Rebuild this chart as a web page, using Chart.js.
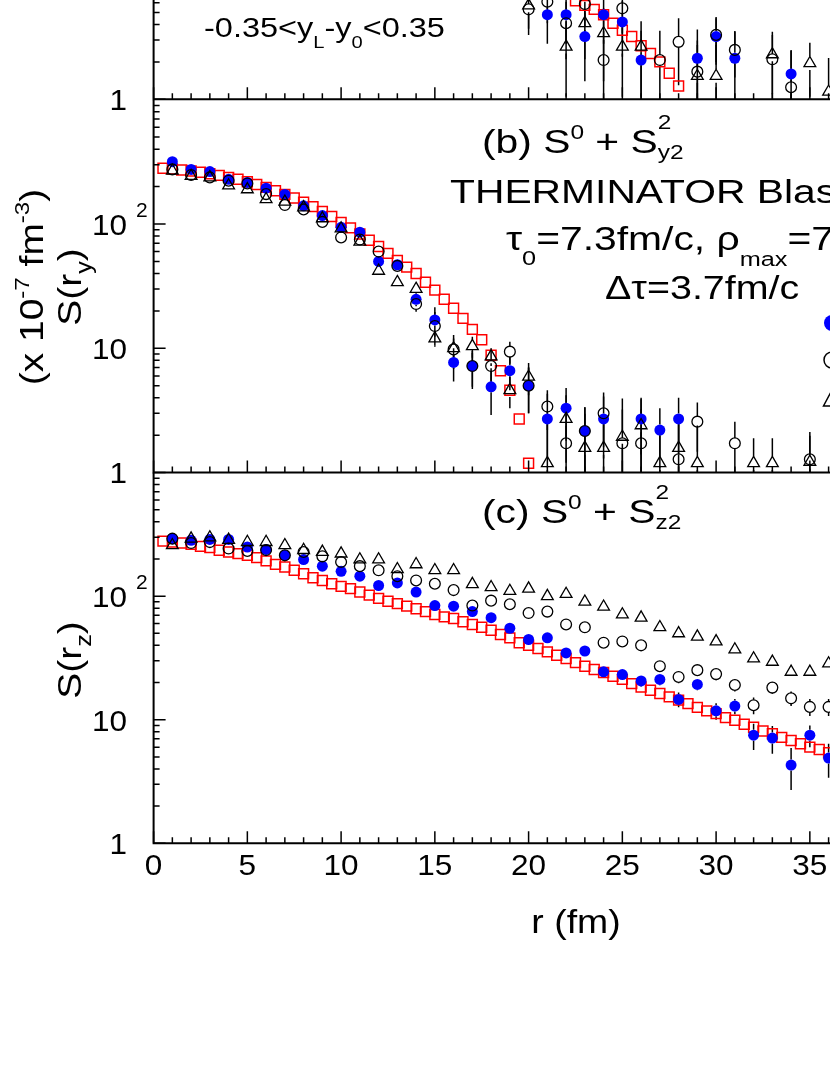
<!DOCTYPE html>
<html>
<head>
<meta charset="utf-8">
<script src="https://cdn.jsdelivr.net/npm/chart.js@4.4.1/dist/chart.umd.min.js"></script>
<style>
  html, body { margin: 0; padding: 0; background: #fff; overflow: hidden; width: 830px; height: 1075px; }
  canvas { position: absolute; left: 0; }
</style>
</head>
<body>
<canvas id="panelA" width="1000" height="1075" style="top:-400px"></canvas>
<canvas id="panelB" width="1000" height="1075" style="top:0"></canvas>
<canvas id="panelC" width="1000" height="1075" style="top:0"></canvas>
<script>
"use strict";

// ---- data ----
const rBins = [1, 2, 3, 4, 5, 6, 7, 8, 9, 10, 11, 12,
  13, 14, 15, 16, 17, 18, 19, 20, 21, 22, 23, 24,
  25, 26, 27, 28, 29, 30, 31, 32, 33, 34, 35, 36];
const rModel = [0.5, 1, 1.5, 2, 2.5, 3, 3.5, 4, 4.5, 5, 5.5, 6,
  6.5, 7, 7.5, 8, 8.5, 9, 9.5, 10, 10.5, 11, 11.5, 12,
  12.5, 13, 13.5, 14, 14.5, 15, 15.5, 16, 16.5, 17, 17.5, 18,
  18.5, 19, 19.5, 20, 20.5, 21, 21.5, 22, 22.5, 23, 23.5, 24,
  24.5, 25, 25.5, 26, 26.5, 27, 27.5, 28, 28.5, 29, 29.5, 30,
  30.5, 31, 31.5, 32, 32.5, 33, 33.5, 34, 34.5, 35, 35.5, 36];
const xTickValues = [0, 5, 10, 15, 20, 25, 30, 35];
const xTickLabels = ["0", "5", "10", "15", "20", "25", "30", "35"];
const yTickValues = [1, 10, 100];
const yTickLabels = [["1"], ["10"], ["10", "2"]];

// panel (a) - only the lower part is on the page
const aBlue = [null, null, null, null, null, null, null, null, null, null, null, null,
  null, null, null, null, null, null, null, null, 4.8, 4.8, 3.2, 4.8,
  4.2, 2.07, null, null, 2.14, 3.2, 2.14, null, null, 1.6, null, null];
const aBlueErr = [null, null, null, null, null, null, null, null, null, null, null, null,
  null, null, null, null, null, null, null, null, 2.0, 2.0, 1.8, 2.0,
  2.0, 1.5, null, null, 1.5, 1.3, 1.4, null, null, 0.9, null, null];
const aCircle = [null, null, null, null, null, null, null, null, null, null, null, null,
  null, null, null, null, null, null, null, 5.3, 6.1, 4.1, 5.85, 2.07,
  5.4, null, 2.07, 2.9, 1.67, 3.3, 2.5, null, 2.1, 1.25, null, null];
const aCircleErr = [null, null, null, null, null, null, null, null, null, null, null, null,
  null, null, null, null, null, null, null, 2.0, 2.0, 2.0, 2.0, 1.5,
  2.0, null, 1.5, 1.6, 1.3, 1.3, 1.0, null, 1.2, 1.2, null, null];
const aTri = [null, null, null, null, null, null, null, null, null, null, null, null,
  null, null, null, null, null, null, null, 5.7, null, 2.65, 4.1, 3.4,
  2.65, 2.65, null, null, 1.54, 1.54, null, null, 2.3, null, 1.95, 1.15];
const aTriErr = [null, null, null, null, null, null, null, null, null, null, null, null,
  null, null, null, null, null, null, null, 2.0, null, 1.6, 2.0, 2.0,
  1.6, 1.6, null, null, 1.2, 1.2, null, null, 1.2, null, 0.9, 1.0];
const aModel = [null, null, null, null, null, null, null, null, null, null, null, null,
  null, null, null, null, null, null, null, null, null, null, null, null,
  null, null, null, null, null, null, null, null, null, null, null, null,
  null, null, null, null, null, null, null, null, 6.2, 5.7, 5.3, 4.8,
  4.1, 3.6, 3.2, 2.7, 2.34, 2.0, 1.62, 1.28, null, null, null, null,
  null, null, null, null, null, null, null, null, null, null, null, null];

// panel (b)
const bBlue = [317, 275, 264, 229, 216, 194, 173, 140, 117, 94, 86, 50,
  47, 24.8, 16.9, 7.7, 7.2, 4.9, 6.6, 5.0, 2.7, 3.3, 2.16, 2.7,
  null, 2.7, 2.2, 2.7, null, null, null, null, null, null, null, null];
const bBlueErr = [6, 5, 5, 5, 4, 4, 4, 3, 3, 3, 3, 2,
  2, 3, 4.5, 2.3, 2.5, 2.0, 2.0, 2.0, 1.6, 1.5, 1.2, 1.4,
  null, 1.3, 1.1, 1.3, null, null, null, null, null, null, null, null];
const bCircle = [275, 248, 237, 223, 212, 174, 142, 131, 104, 78, 75, 60,
  46, 22.7, 15.1, 9.8, 7.2, 7.2, 9.4, 5.0, 3.4, 1.72, 2.16, 3.0,
  1.72, 1.72, null, 1.28, 2.57, null, 1.72, null, null, null, 1.28, null];
const bCircleErr = [5, 5, 5, 5, 4, 4, 3, 3, 3, 2, 2, 2,
  2, 3, 4.5, 3, 2.3, 2.3, 1.9, 2.0, 1.2, 1.5, 1.2, 1.4,
  1.5, 1.5, null, 1.4, 1.1, null, 0.85, null, null, null, 0.7, null];
const bTri = [268, 243, 237, 204, 190, 158, 151, 136, 111, 92, 72, 42,
  34, 30, 12, 10, 10.4, 8.6, 4.6, 5.9, 1.19, 2.7, 1.58, 1.58,
  1.94, 2.4, 1.19, 1.58, 1.19, null, null, 1.19, 1.19, null, 1.22, null];
const bTriErr = [5, 5, 5, 4, 4, 3, 3, 3, 3, 2, 2, 2,
  2, 3, 1.7, 2.0, 2.0, 1.4, 1.3, 1.7, 1.5, 1.5, 1.4, 1.4,
  2.0, 1.5, 1.2, 1.2, 1.2, null, null, 0.7, 0.7, null, 0.9, null];
const bModel = [281, 277, 272, 267, 261, 254, 246, 237, 229, 219, 208, 197,
  185, 173, 162, 150, 138, 126, 115, 103, 93, 83, 74, 66,
  58, 51, 45, 40, 34, 29.4, 24.8, 21, 17.4, 14.2, 11.7, 8.8,
  6.6, 4.6, 2.7, 1.19, null, null, null, null, null, null, null, null,
  null, null, null, null, null, null, null, null, null, null, null, null,
  null, null, null, null, null, null, null, null, null, null, null, null];

// panel (c)
const cBlue = [292, 283, 288, 288, 250, 239, 214, 198, 175, 159, 145, 122,
  128, 108, 84, 83, 75, 67, 55, 44.6, 46, 34.7, 36, 24.4,
  23.2, 20.6, 21.2, 14.6, 19.3, 11.8, 12.9, 7.5, 7.1, 4.3, 7.5, 4.9];
const cBlueErr = [5, 5, 5, 5, 5, 5, 4, 4, 4, 4, 4, 3,
  3, 3, 3, 3, 3, 3, 3, 3, 3, 2.5, 2.5, 2.5,
  2.2, 2.2, 2.2, 2.0, 2.0, 1.8, 1.8, 1.8, 1.8, 1.6, 1.5, 1.5];
const cCircle = [292, 269, 274, 243, 232, 236, 214, 228, 210, 189, 175, 162,
  145, 134, 126, 112, 84, 92, 86, 73, 75, 59, 56, 42,
  43, 40, 27.1, 22.2, 25.2, 23.4, 19.1, 13.1, 18.2, 14.9, 12.7, 12.7];
const cCircleErr = [5, 5, 5, 5, 5, 5, 4, 4, 4, 4, 4, 3,
  3, 3, 3, 3, 3, 3, 3, 3, 3, 3, 3, 3,
  3, 3, 2.5, 2.5, 2.5, 2.5, 2.2, 2.0, 2.0, 2.0, 2.0, 2.0];
const cTri = [258, 292, 298, 285, 274, 274, 258, 236, 228, 221, 198, 198,
  165, 181, 162, 162, 125, 118, 110, 115, 100, 104, 90, 82,
  71, 67, 56, 50, 47, 43, 37, 31.3, 29.4, 24.4, 24.4, 28.5];
const cTriErr = [5, 5, 5, 5, 5, 5, 4, 4, 4, 4, 4, 4,
  3, 3, 3, 3, 3, 3, 3, 3, 3, 3, 3, 3,
  2, 2, 2, 2, 2, 2, 2, 2, 2, 2, 2, 2];
const cModel = [279, 274, 269, 263, 253, 247, 235, 228, 221, 214, 205, 193,
  181, 172, 162, 152, 141, 134, 126, 120, 115, 108, 102, 96,
  91, 87, 83, 79, 75, 71, 68, 66, 62, 59, 56, 53,
  49, 46, 42, 40, 37.7, 35.4, 33.3, 31.3, 29, 27.1, 25.5, 24.1,
  22.5, 21.2, 19.6, 18.4, 17.3, 16.3, 15.3, 14.4, 13.5, 12.6, 11.8, 11.2,
  10.4, 9.9, 9.2, 8.7, 8.1, 7.7, 7.2, 6.8, 6.4, 6.0, 5.75, 5.4];

// ---- drawing helpers ----
const FONT = '"Liberation Sans", Arial, Helvetica, sans-serif';

// parts: ["text", sizeFactor, dyInEm]; a nested array stacks sup/sub at one spot
function drawRich(ctx, parts, x, y, o) {
  const size = o.size;
  const items = parts.map((p) => {
    const segs = (Array.isArray(p[0]) ? p : [p]).map(([t, f, dy]) => ({
      t: t,
      s: size * (f || 1),
      dy: size * (dy || 0),
    }));
    let w = 0;
    segs.forEach((s) => {
      ctx.font = s.s + "px " + FONT;
      w = Math.max(w, ctx.measureText(s.t).width);
    });
    return { segs, w };
  });
  const total = items.reduce((a, it) => a + it.w, 0);
  ctx.save();
  ctx.translate(x, y);
  if (o.rot) ctx.rotate(o.rot);
  ctx.scale(o.sx || 1, 1);
  let cx = o.align === "center" ? -total / 2 : o.align === "right" ? -total : 0;
  ctx.fillStyle = "#000";
  ctx.textAlign = "left";
  ctx.textBaseline = "alphabetic";
  items.forEach((it) => {
    it.segs.forEach((s) => {
      ctx.font = s.s + "px " + FONT;
      ctx.fillText(s.t, cx, s.dy);
    });
    cx += it.w;
  });
  ctx.restore();
}

const panelPlugin = {
  id: "panel",
  beforeDatasetsDraw(chart) {
    // vertical error bars, clipped to the frame, left open inside the marker
    const ctx = chart.ctx;
    const area = chart.chartArea;
    const ys = chart.scales.y;
    ctx.save();
    ctx.beginPath();
    ctx.rect(area.left, area.top, area.right - area.left, area.bottom - area.top);
    ctx.clip();
    ctx.strokeStyle = "#000";
    ctx.lineWidth = 1.5;
    chart.data.datasets.forEach((ds, i) => {
      if (!ds.showErrors) return;
      const gap = ds.pointRadius;
      const meta = chart.getDatasetMeta(i);
      meta.data.forEach((pt, j) => {
        const raw = ds.data[j];
        if (raw.e == null) return;
        const hi = ys.getPixelForValue(raw.y + raw.e);
        const lo = raw.y - raw.e > 0 ? ys.getPixelForValue(raw.y - raw.e) : area.bottom + 5;
        ctx.beginPath();
        if (hi < pt.y - gap) {
          ctx.moveTo(pt.x, hi);
          ctx.lineTo(pt.x, pt.y - gap);
        }
        if (lo > pt.y + gap) {
          ctx.moveTo(pt.x, pt.y + gap);
          ctx.lineTo(pt.x, lo);
        }
        ctx.stroke();
      });
    });
    ctx.restore();
  },
  afterDatasetsDraw(chart, args, opts) {
    const ctx = chart.ctx;
    const { left, right, top, bottom } = chart.chartArea;
    const xs = chart.scales.x;
    const ys = chart.scales.y;

    ctx.save();
    ctx.strokeStyle = "#000";
    ctx.lineWidth = 2;
    ctx.beginPath();
    ctx.moveTo(left, top);
    ctx.lineTo(left, bottom);
    ctx.lineTo(right, bottom);
    ctx.stroke();

    // ticks point into the frame
    ctx.lineWidth = 1.5;
    ctx.beginPath();
    for (let r = xs.min; r <= xs.max; r += 1) {
      const px = xs.getPixelForValue(r);
      const len = r % 5 === 0 ? 12 : 6;
      ctx.moveTo(px, bottom);
      ctx.lineTo(px, bottom - len);
    }
    for (let d = ys.min; d < ys.max; d *= 10) {
      for (let m = 1; m < 10; m++) {
        const py = ys.getPixelForValue(m * d);
        ctx.moveTo(left, py);
        ctx.lineTo(left + (m === 1 ? 12 : 6), py);
      }
    }
    ctx.stroke();
    ctx.restore();

    yTickValues.forEach((v, i) => {
      const py = ys.getPixelForValue(v);
      const lab = yTickLabels[i];
      drawRich(ctx, [[lab[0]]], 127, py + 10.8, { size: 30, sx: 1.05, align: "right" });
      if (lab[1]) drawRich(ctx, [[lab[1]]], 136, py - 7, { size: 21 });
    });

    if (opts.xLabels) {
      xTickValues.forEach((v, i) => {
        drawRich(ctx, [[xTickLabels[i]]], xs.getPixelForValue(v), bottom + 32, {
          size: 30, sx: 1.05, align: "center",
        });
      });
    }

    (opts.texts || []).forEach((t) => drawRich(ctx, t.parts, t.x, t.y, t));

    (opts.legend || []).forEach((m) => {
      ctx.save();
      ctx.lineWidth = 1.5;
      ctx.strokeStyle = "#000";
      ctx.fillStyle = "#0000ff";
      ctx.beginPath();
      if (m.style === "dot") {
        ctx.arc(m.x, m.y, 8, 0, 2 * Math.PI);
        ctx.fill();
      } else if (m.style === "circle") {
        ctx.arc(m.x, m.y, 8, 0, 2 * Math.PI);
        ctx.stroke();
      } else {
        ctx.moveTo(m.x, m.y - 9);
        ctx.lineTo(m.x + 8.5, m.y + 7);
        ctx.lineTo(m.x - 8.5, m.y + 7);
        ctx.closePath();
        ctx.stroke();
      }
      ctx.restore();
    });
  },
};

const blueStyle = {
  pointStyle: "circle", pointRadius: 5.5,
  pointBackgroundColor: "#0000ff", pointBorderColor: "#0000ff", pointBorderWidth: 0,
};
const circleStyle = {
  pointStyle: "circle", pointRadius: 5.4,
  pointBackgroundColor: "rgba(0,0,0,0)", pointBorderColor: "#000", pointBorderWidth: 1.3,
};
const triStyle = {
  pointStyle: "triangle", pointRadius: 6.8,
  pointBackgroundColor: "rgba(0,0,0,0)", pointBorderColor: "#000", pointBorderWidth: 1.3,
};
const modelStyle = {
  pointStyle: "rect", pointRadius: 7,
  pointBackgroundColor: "rgba(0,0,0,0)", pointBorderColor: "#ff0000", pointBorderWidth: 1.5,
};

function series(xv, yv, errs, style, order) {
  const data = [];
  xv.forEach((x, i) => {
    if (yv[i] != null) data.push({ x: x, y: yv[i], e: errs ? errs[i] : null });
  });
  return Object.assign({ data, showLine: false, order, showErrors: !!errs }, style);
}

function makePanel(id, datasets, pad, deco) {
  return new Chart(document.getElementById(id), {
    type: "scatter",
    data: { datasets },
    options: {
      responsive: false,
      animation: false,
      events: [],
      layout: { padding: pad, autoPadding: false },
      scales: {
        x: { type: "linear", min: 0, max: 40, display: false },
        y: { type: "logarithmic", min: 1, max: 1000, display: false },
      },
      plugins: { legend: { display: false }, tooltip: { enabled: false }, panel: deco },
    },
    plugins: [panelPlugin],
  });
}

const annot = { size: 34, sx: 1.2 };

makePanel("panelA", [
  series(rBins, aTri, aTriErr, triStyle, 1),
  series(rBins, aCircle, aCircleErr, circleStyle, 2),
  series(rBins, aBlue, aBlueErr, blueStyle, 3),
  series(rModel, aModel, null, modelStyle, 4),
], { left: 153.6, right: 96.4, top: 126.7, bottom: 575.7 }, {
  texts: [
    { parts: [["-0.35<y"], ["L", 0.62, 0.38], ["-y"], ["0", 0.62, 0.38], ["<0.35"]],
      x: 204, y: 437, size: 28, sx: 1.16 },
  ],
});

makePanel("panelB", [
  series(rBins, bTri, bTriErr, triStyle, 1),
  series(rBins, bCircle, bCircleErr, circleStyle, 2),
  series(rBins, bBlue, bBlueErr, blueStyle, 3),
  series(rModel, bModel, null, modelStyle, 4),
], { left: 153.6, right: 96.4, top: 99.7, bottom: 602.4 }, {
  texts: [
    Object.assign({ parts: [["(b) S"], ["0", 0.6, -0.4], [" + S"], [["2", 0.6, -0.72], ["y2", 0.6, 0.19]]],
      x: 482, y: 153 }, annot),
    Object.assign({ parts: [["THERMINATOR Blast-wave"]], x: 450, y: 203 }, annot),
    Object.assign({ parts: [["\u03c4"], ["0", 0.62, 0.44], ["=7.3fm/c, \u03c1"], ["max", 0.62, 0.46], ["=7"]],
      x: 506, y: 250 }, annot),
    Object.assign({ parts: [["\u0394\u03c4=3.7fm/c"]], x: 605, y: 299 }, annot, { sx: 1.16 }),
    { parts: [["S(r"], ["y", 0.65, 0.3], [")"]], x: 81, y: 287, size: 33, sx: 1.18,
      align: "center", rot: -Math.PI / 2 },
    { parts: [["(x 10"], ["-7", 0.62, -0.42], [" fm"], ["-3", 0.62, -0.42], [")"]],
      x: 43, y: 287, size: 33, sx: 1.18, align: "center", rot: -Math.PI / 2 },
  ],
  legend: [
    { style: "dot", x: 832, y: 323 },
    { style: "circle", x: 832, y: 360 },
    { style: "tri", x: 832, y: 399 },
  ],
});

makePanel("panelC", [
  series(rBins, cTri, cTriErr, triStyle, 1),
  series(rBins, cCircle, cCircleErr, circleStyle, 2),
  series(rBins, cBlue, cBlueErr, blueStyle, 3),
  series(rModel, cModel, null, modelStyle, 4),
], { left: 153.6, right: 96.4, top: 472.6, bottom: 231.7 }, {
  xLabels: true,
  texts: [
    Object.assign({ parts: [["(c) S"], ["0", 0.6, -0.4], [" + S"], [["2", 0.6, -0.72], ["z2", 0.6, 0.19]]],
      x: 482, y: 523 }, annot),
    { parts: [["S(r"], ["z", 0.65, 0.3], [")"]], x: 81, y: 660, size: 33, sx: 1.18,
      align: "center", rot: -Math.PI / 2 },
    { parts: [["r (fm)"]], x: 576, y: 933, size: 34, sx: 1.1, align: "center" },
  ],
});
</script>
</body>
</html>
